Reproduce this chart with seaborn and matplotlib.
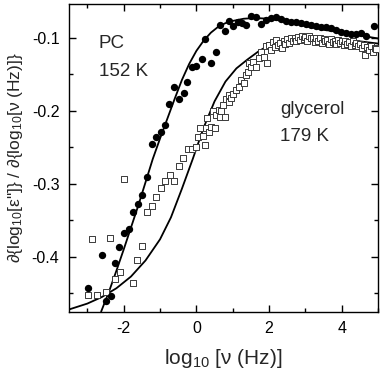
import numpy as np
import matplotlib
matplotlib.use('Agg')
import matplotlib.pyplot as plt
import seaborn as sns
from matplotlib.ticker import MultipleLocator

# ── data ────────────────────────────────────────────────────────────────────
pc_x = [-2.99, -2.61, -2.48, -2.36, -2.24, -2.12, -1.99, -1.85, -1.75, -1.61,
        -1.50, -1.37, -1.23, -1.10, -0.98, -0.86, -0.75, -0.61, -0.49, -0.35,
        -0.25, -0.11, 0.00, 0.15, 0.25, 0.40, 0.53, 0.65, 0.78, 0.89,
        1.00, 1.14, 1.26, 1.37, 1.51, 1.64, 1.78, 1.92, 2.05, 2.19,
        2.33, 2.47, 2.60, 2.74, 2.88, 3.01, 3.15, 3.29, 3.42, 3.56,
        3.70, 3.84, 3.97, 4.11, 4.25, 4.38, 4.52, 4.66, 4.88]
pc_y = [-0.442, -0.397, -0.461, -0.453, -0.408, -0.387, -0.368, -0.362, -0.339, -0.328,
        -0.316, -0.291, -0.245, -0.236, -0.229, -0.219, -0.191, -0.167, -0.184, -0.176,
        -0.160, -0.140, -0.139, -0.129, -0.102, -0.135, -0.119, -0.083, -0.091, -0.077,
        -0.084, -0.078, -0.080, -0.083, -0.070, -0.071, -0.081, -0.076, -0.073, -0.072,
        -0.075, -0.077, -0.078, -0.079, -0.080, -0.081, -0.082, -0.084, -0.085, -0.086,
        -0.087, -0.090, -0.092, -0.094, -0.095, -0.095, -0.094, -0.098, -0.084]

gly_x = [-2.99, -2.87, -2.73, -2.48, -2.37, -2.23, -2.10, -1.98, -1.74, -1.62,
         -1.49, -1.36, -1.23, -1.12, -0.98, -0.86, -0.73, -0.61, -0.48, -0.37,
         -0.23, -0.11, 0.00, 0.04, 0.11, 0.18, 0.23, 0.27, 0.29, 0.35,
         0.41, 0.45, 0.50, 0.55, 0.62, 0.64, 0.68, 0.73, 0.78, 0.82,
         0.89, 0.91, 0.96, 1.02, 1.10, 1.17, 1.23, 1.30, 1.37, 1.43,
         1.46, 1.51, 1.57, 1.64, 1.73, 1.78, 1.87, 1.92, 1.93,
         2.00, 2.05, 2.10, 2.15, 2.20, 2.25, 2.30, 2.35, 2.40, 2.45,
         2.50, 2.55, 2.60, 2.65, 2.70, 2.75, 2.80, 2.85, 2.90, 2.95,
         3.00, 3.05, 3.10, 3.15, 3.20, 3.25, 3.30, 3.35, 3.40, 3.45,
         3.50, 3.55, 3.60, 3.65, 3.70, 3.75, 3.80, 3.85, 3.90, 3.95,
         4.00, 4.05, 4.10, 4.15, 4.20, 4.25, 4.30, 4.35, 4.40, 4.45,
         4.50, 4.55, 4.60, 4.65, 4.70, 4.75, 4.80, 4.85, 4.90, 4.95]
gly_y = [-0.452, -0.375, -0.452, -0.448, -0.374, -0.431, -0.421, -0.294, -0.436, -0.404,
         -0.385, -0.339, -0.330, -0.318, -0.306, -0.296, -0.288, -0.296, -0.275, -0.265,
         -0.252, -0.252, -0.249, -0.236, -0.223, -0.235, -0.247, -0.224, -0.210, -0.229,
         -0.222, -0.200, -0.223, -0.206, -0.199, -0.208, -0.201, -0.192, -0.209, -0.184,
         -0.188, -0.178, -0.183, -0.177, -0.172, -0.167, -0.158, -0.162, -0.151, -0.147,
         -0.134, -0.140, -0.133, -0.140, -0.128, -0.119, -0.126, -0.112, -0.135,
         -0.110, -0.117, -0.106, -0.113, -0.103, -0.110, -0.107, -0.114, -0.104, -0.109,
         -0.102, -0.107, -0.101, -0.105, -0.100, -0.104, -0.099, -0.103, -0.098, -0.102,
         -0.099, -0.104, -0.097, -0.101, -0.100, -0.106, -0.101, -0.104, -0.100, -0.107,
         -0.102, -0.105, -0.103, -0.108, -0.102, -0.106, -0.104, -0.108, -0.103, -0.107,
         -0.105, -0.110, -0.104, -0.108, -0.106, -0.111, -0.105, -0.110, -0.107, -0.112,
         -0.108, -0.114, -0.110, -0.124, -0.113, -0.117, -0.112, -0.119, -0.114, -0.116]

# fit curves
pc_fit_x = [-2.62, -2.40, -2.20, -2.00, -1.80, -1.60, -1.40, -1.20, -1.00, -0.80,
            -0.60, -0.40, -0.20, 0.00, 0.20, 0.40, 0.60, 0.80, 1.00, 1.30,
            1.60, 2.00, 2.50, 3.00, 3.50, 4.00, 4.50, 5.00]
pc_fit_y = [-0.475, -0.447, -0.419, -0.390, -0.360, -0.330, -0.298, -0.266, -0.238, -0.211,
            -0.184, -0.158, -0.136, -0.118, -0.104, -0.093, -0.085, -0.080, -0.077, -0.074,
            -0.073, -0.074, -0.078, -0.084, -0.089, -0.093, -0.097, -0.101]

gly_fit_x = [-3.50, -3.00, -2.60, -2.20, -1.80, -1.40, -1.00, -0.70, -0.40, -0.10,
             0.20, 0.50, 0.80, 1.10, 1.40, 1.70, 2.00, 2.40, 2.80, 3.20,
             3.60, 4.00, 4.50, 5.00]
gly_fit_y = [-0.472, -0.464, -0.455, -0.443, -0.427, -0.405, -0.376, -0.346, -0.307, -0.266,
             -0.223, -0.187, -0.160, -0.142, -0.130, -0.119, -0.110, -0.104, -0.100, -0.099,
             -0.100, -0.102, -0.105, -0.108]

# ── style ───────────────────────────────────────────────────────────────────
sns.set_style('ticks')
plt.rcParams['font.family'] = ['Liberation Sans', 'DejaVu Sans']
plt.rcParams['mathtext.fontset'] = 'custom'
plt.rcParams['mathtext.rm'] = 'Liberation Sans'
plt.rcParams['mathtext.it'] = 'Liberation Sans:italic'
plt.rcParams['axes.unicode_minus'] = False

fig = plt.figure(figsize=(3.82, 3.75), dpi=100)
ax = fig.add_axes([0.181, 0.169, 0.809, 0.820])

sns.lineplot(x=pc_fit_x, y=pc_fit_y, sort=False, estimator=None,
             color='black', lw=1.3, ax=ax)
sns.lineplot(x=gly_fit_x, y=gly_fit_y, sort=False, estimator=None,
             color='black', lw=1.3, ax=ax)
sns.scatterplot(x=gly_x, y=gly_y, marker='s', s=18, facecolor='white',
                edgecolor='#3a3a3a', linewidth=0.7, ax=ax, zorder=3)
sns.scatterplot(x=pc_x, y=pc_y, marker='o', s=28, color='black',
                edgecolor='black', linewidth=0, ax=ax, zorder=4)

ax.set_xlim(-3.5, 5.0)
ax.set_ylim(-0.475, -0.054)
ax.xaxis.set_major_locator(MultipleLocator(2))
ax.xaxis.set_minor_locator(MultipleLocator(1))
ax.yaxis.set_major_locator(MultipleLocator(0.1))
ax.yaxis.set_minor_locator(MultipleLocator(0.05))
ax.yaxis.set_major_formatter(plt.FuncFormatter(lambda v, p: f'{v:.1f}'))
ax.tick_params(which='both', direction='in', top=True, right=True,
               width=1.0, colors='black', labelsize=11.5)
ax.tick_params(which='major', length=5, pad=7)
ax.tick_params(which='minor', length=3)
for s in ax.spines.values():
    s.set_linewidth(1.0)
    s.set_color('black')

ax.set_xlabel(r'log$_{10}$ [ν (Hz)]', fontsize=15, labelpad=8)
ax.set_ylabel(r'∂{log$_{10}$[ε"]} / ∂{log$_{10}$[ν (Hz)]}', fontsize=12.5, labelpad=5)

ax.text(0.095, 0.856, 'PC', transform=ax.transAxes, fontsize=13.5, va='baseline')
ax.text(0.095, 0.766, '152 K', transform=ax.transAxes, fontsize=13.5, va='baseline')
ax.text(0.683, 0.643, 'glycerol', transform=ax.transAxes, fontsize=13.5, va='baseline')
ax.text(0.683, 0.556, '179 K', transform=ax.transAxes, fontsize=13.5, va='baseline')

fig.savefig('out.png', dpi=100)
